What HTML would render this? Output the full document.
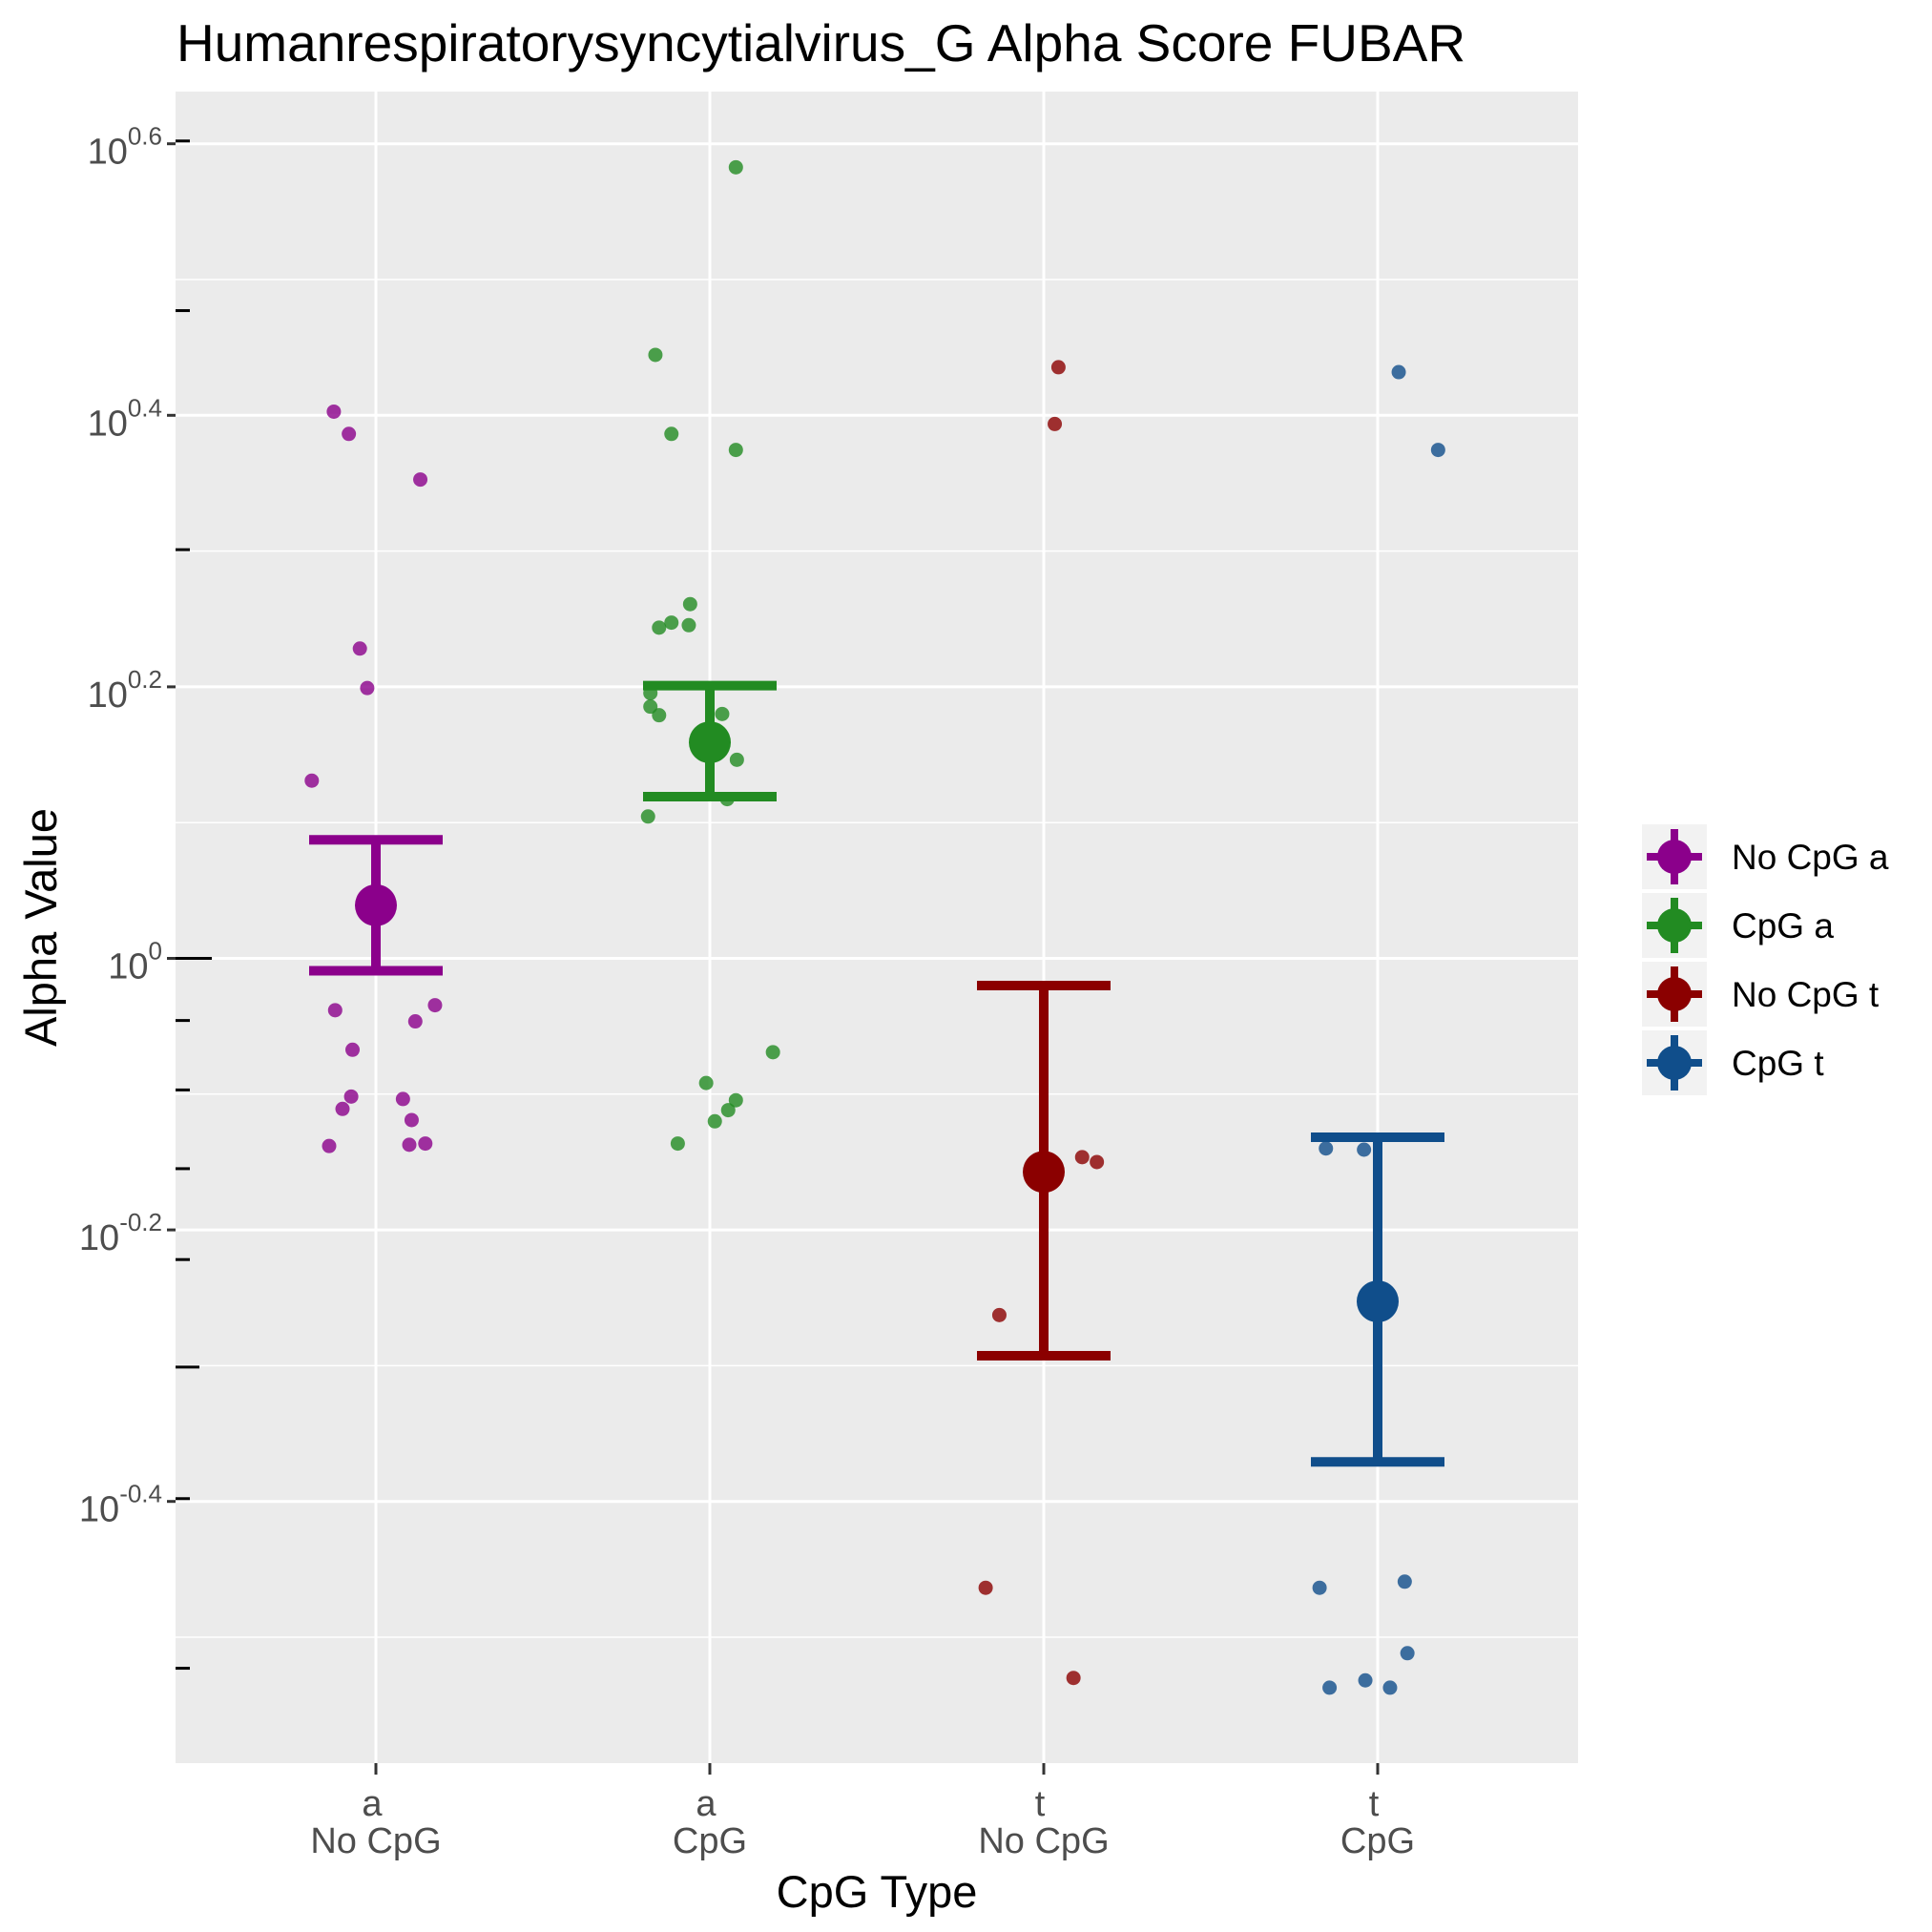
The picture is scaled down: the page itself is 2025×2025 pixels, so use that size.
<!DOCTYPE html>
<html><head><meta charset="utf-8"><style>
html,body{margin:0;padding:0;background:#fff;}
svg{display:block;font-family:"Liberation Sans",Arial,sans-serif;}
</style></head><body>
<svg id="chart" width="2025" height="2025" viewBox="0 0 2025 2025" xmlns="http://www.w3.org/2000/svg">
<rect x="0" y="0" width="2025" height="2025" fill="#fff"/>
<text x="185" y="64" font-size="55" fill="#000">Humanrespiratorysyncytialvirus_G Alpha Score FUBAR</text>
<rect x="184" y="96" width="1470" height="1752" fill="#EBEBEB"/>
<g id="grid"></g>
<g id="axes"></g>
<g id="marks"></g>
<text x="919" y="1999" font-size="47" text-anchor="middle" fill="#000">CpG Type</text>
<text transform="translate(59,972) rotate(-90)" font-size="47" text-anchor="middle" fill="#000">Alpha Value</text>
<g id="legend"></g>
</svg>
<script>
const categories = ["No CpG a", "CpG a", "No CpG t", "CpG t"];
const tickTop = ["a", "a", "t", "t"];
const tickBottom = ["No CpG", "CpG", "No CpG", "CpG"];
const colors = ["#8B008B", "#228B22", "#8B0000", "#104E8B"];
const yTicks = [-0.4, -0.2, 0, 0.2, 0.4, 0.6];
const yTickLabels = ["-0.4", "-0.2", "0", "0.2", "0.4", "0.6"];
const logTickValues = [0.3, 0.4, 0.5, 0.6, 0.7, 0.8, 0.9, 1, 2, 3, 4];

const means = [0.0391, 0.1591, -0.1573, -0.2527];
const errHigh = [0.0873, 0.2009, -0.0200, -0.1318];
const errLow = [-0.0091, 0.1191, -0.2927, -0.3709];

const pts0 = [0.4027, 0.3863, 0.3527, 0.2282, 0.1991, 0.1309, -0.0382, -0.0345, -0.0464, -0.0673, -0.1018, -0.1036, -0.1109, -0.1191, -0.1382, -0.1373, -0.1364];
const jit0 = [-0.126, -0.081, 0.133, -0.048, -0.026, -0.192, -0.122, 0.177, 0.118, -0.070, -0.074, 0.081, -0.100, 0.107, -0.140, 0.100, 0.148];
const pts1 = [0.5827, 0.4445, 0.3863, 0.3745, 0.2609, 0.2473, 0.2436, 0.2454, 0.1954, 0.1854, 0.1791, 0.1800, 0.1463, 0.1173, 0.1045, -0.0691, -0.0918, -0.1045, -0.1118, -0.1200, -0.1364];
const jit1 = [0.078, -0.163, -0.115, 0.078, -0.059, -0.115, -0.152, -0.063, -0.178, -0.178, -0.152, 0.037, 0.081, 0.052, -0.185, 0.189, -0.011, 0.078, 0.055, 0.015, -0.096];
const pts2 = [0.4354, 0.3936, -0.1464, -0.1500, -0.2627, -0.4636, -0.5300];
const jit2 = [0.044, 0.033, 0.115, 0.159, -0.133, -0.174, 0.089];
const pts3 = [0.4318, 0.3745, -0.1400, -0.1409, -0.4636, -0.4591, -0.5118, -0.5318, -0.5372, -0.5372];
const jit3 = [0.063, 0.181, -0.155, -0.041, -0.174, 0.081, 0.089, -0.037, -0.144, 0.037];
const allPts = [pts0, pts1, pts2, pts3];
const allJit = [jit0, jit1, jit2, jit3];

const NS = "http://www.w3.org/2000/svg";
const PL = 184, PR = 1654, PT = 96, PB = 1848;
function xScale(i) { return 394 + i * 350; }
function yScale(v) { return 1004.5 - (v / 0.2) * 284.6; }
function mk(tag, attrs, parent) {
  const e = document.createElementNS(NS, tag);
  for (const k in attrs) e.setAttribute(k, attrs[k]);
  parent.appendChild(e);
  return e;
}
const grid = document.getElementById("grid");
const axes = document.getElementById("axes");
const marks = document.getElementById("marks");
const legend = document.getElementById("legend");

for (let i = 0; i < yTicks.length; i++) {
  const v = yTicks[i] - 0.1;
  const y = yScale(v);
  if (y > PT && y < PB) {
    const l = mk("line", {x1: PL, x2: PR, y1: y, y2: y, stroke: "#fff", "stroke-width": 1.5}, grid);
    
    
  }
}
{ const y = yScale(0.7); if (y > PT) { const l = mk("line", {x1: PL, x2: PR, y1: y, y2: y, stroke: "#fff", "stroke-width": 1.5}, grid);
  
   } }
for (let i = 0; i < yTicks.length; i++) {
  const y = yScale(yTicks[i]);
  const l = mk("line", {x1: PL, x2: PR, y1: y, y2: y, stroke: "#fff", "stroke-width": 3}, grid);
  
  
  const t = mk("line", {x1: PL - 9, x2: PL, y1: y, y2: y, stroke: "#333", "stroke-width": 3}, axes);
  
  
  const tx = mk("text", {x: PL - 14, y: y + 21, "font-size": 38, fill: "#4D4D4D", "text-anchor": "end"}, axes);
  
  
  const base = document.createElementNS(NS, "tspan"); base.textContent = "10"; tx.appendChild(base);
  const sup = document.createElementNS(NS, "tspan");
  sup.setAttribute("font-size", 26); sup.setAttribute("dy", -20); sup.textContent = yTickLabels[i];
  tx.appendChild(sup);
}
for (let i = 0; i < categories.length; i++) {
  const x = xScale(i);
  const l = mk("line", {x1: x, x2: x, y1: PT, y2: PB, stroke: "#fff", "stroke-width": 3}, grid);
  
  
  const t = mk("line", {x1: x, x2: x, y1: PB, y2: PB + 12, stroke: "#333", "stroke-width": 3}, axes);
  
  
  const a = mk("text", {x: x - 4, y: 1903, "font-size": 38, fill: "#4D4D4D", "text-anchor": "middle"}, axes);
  a.textContent = tickTop[i];
  
  
  const b = mk("text", {x: x, y: 1942, "font-size": 38, fill: "#4D4D4D", "text-anchor": "middle"}, axes);
  b.textContent = tickBottom[i];
  
  
}
for (let i = 0; i < logTickValues.length; i++) {
  const v = logTickValues[i];
  const y = yScale(Math.log10(v));
  const len = v === 1 ? 38 : (v === 0.5 ? 25 : 15);
  const l = mk("line", {x1: PL, x2: PL + len, y1: y, y2: y, stroke: "#000", "stroke-width": 3}, axes);
  
  
}
for (let g = 0; g < categories.length; g++) {
  const pts = allPts[g], jit = allJit[g];
  for (let k = 0; k < pts.length; k++) {
    const c = mk("circle", {cx: xScale(g + jit[k]), cy: yScale(pts[k]), r: 7.5, fill: colors[g], "fill-opacity": 0.8}, marks);
    
    
  }
}
for (let g = 0; g < categories.length; g++) {
  const x = xScale(g), hw = 70;
  const yh = yScale(errHigh[g]), yl = yScale(errLow[g]), ym = yScale(means[g]);
  const v = mk("line", {x1: x, x2: x, y1: yh, y2: yl, stroke: colors[g], "stroke-width": 10}, marks);
  
  
  const t = mk("line", {x1: x - hw, x2: x + hw, y1: yh, y2: yh, stroke: colors[g], "stroke-width": 10}, marks);
  
  
  const b = mk("line", {x1: x - hw, x2: x + hw, y1: yl, y2: yl, stroke: colors[g], "stroke-width": 10}, marks);
  
  
  const m = mk("circle", {cx: x, cy: ym, r: 22, fill: colors[g]}, marks);
  
  
}
for (let g = 0; g < categories.length; g++) {
  const top = 864 + g * 72, cx = 1755, cy = top + 34;
  const e = mk("g", {}, legend);
  
  
  mk("rect", {x: 1721, y: top, width: 68, height: 68, fill: "#F2F2F2"}, e);
  mk("line", {x1: cx, x2: cx, y1: top + 5, y2: top + 63, stroke: colors[g], "stroke-width": 8}, e);
  mk("line", {x1: cx - 29, x2: cx + 29, y1: cy, y2: cy, stroke: colors[g], "stroke-width": 8}, e);
  mk("circle", {cx: cx, cy: cy, r: 18, fill: colors[g]}, e);
  const t = mk("text", {x: 1815, y: cy + 13, "font-size": 37, fill: "#000"}, e);
  t.textContent = categories[g];
}
</script>
</body></html>
